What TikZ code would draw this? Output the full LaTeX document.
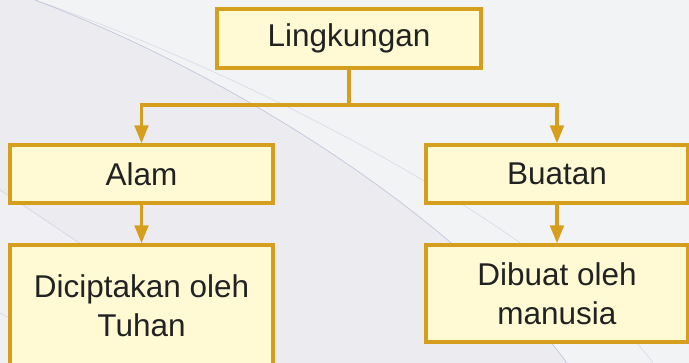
\documentclass[tikz,border=0pt]{standalone}
\usepackage{fontspec}
\setmainfont{Liberation Sans}
\usepackage{tikz}
\usetikzlibrary{arrows.meta}
\usepackage{xcolor}
\definecolor{boxgold}{HTML}{D59E1C}
\definecolor{boxfill}{HTML}{FFFAD4}
\definecolor{bglight}{HTML}{F2F3F5}
\definecolor{bgdark}{HTML}{ECECF0}
\definecolor{bgmid}{HTML}{F0F0F4}
\definecolor{curveline}{HTML}{C4C6DC}
\definecolor{textdark}{HTML}{222222}

\begin{document}
\begin{tikzpicture}
        % Définition des styles
        \tikzset{
            block/.style={rectangle, draw=boxgold, fill=boxfill, line width=2.4pt,
                         text=textdark, align=center,
                         font=\fontsize{22.4}{28}\selectfont},
            link/.style={draw=boxgold, line width=2.4pt},
            arrow/.style={link, -{Triangle[width=0.34cm,length=0.45cm]}},
            curve/.style={curveline, line width=0.5pt}
        }
        
        % Fond
        \fill[bglight] (0,0) rectangle (17.225,-9.075);
        \useasboundingbox (0,0) rectangle (17.225,-9.075);
        \fill[bgdark] (0.875,0) .. controls (6.375,-2.1) and (11.75,-5.8) .. (14.175,-9.075) -- (0,-9.075) -- (0,0) -- cycle;
        \fill[bgmid] (0,-4.75) .. controls (2.5,-6.4) and (4.5,-7.8) .. (6.2,-9.075) -- (0,-9.075) -- cycle;
        \draw[curve] (0.875,0) .. controls (6.375,-2.1) and (11.75,-5.8) .. (14.175,-9.075);
        \draw[curve, opacity=0.5] (0.875,0) .. controls (6.625,-2) and (14,-5.925) .. (16.325,-9.075);
        \draw[curve, opacity=0.6] (0,-4.75) .. controls (2.5,-6.4) and (4.5,-7.8) .. (6.2,-9.075);
        \draw[curve, opacity=0.6] (0,-7.825) -- (0.625,-8.175);
        
        % Diagramme
        \node[block, minimum width=6.6cm, minimum height=1.475cm] (lingkungan) at (8.725,-0.9625) {Lingkungan};
        \node[block, minimum width=6.575cm, minimum height=1.45cm] (alam) at (3.5375,-4.35) {Alam};
        \node[block, minimum width=6.55cm, minimum height=1.45cm] (buatan) at (13.925,-4.35) {Buatan};
        \node[block, minimum width=6.575cm, minimum height=3.05cm] (tuhan) at (3.5375,-7.65) {Diciptakan oleh\\Tuhan};
        \node[block, minimum width=6.55cm, minimum height=2.425cm] (manusia) at (13.925,-7.3375) {Dibuat oleh\\manusia};
        \coordinate (branch) at (8.725,-2.625);
        
        % Connexions
        \draw[link] (lingkungan.south) -- (branch);
        \draw[arrow] (branch) -| (alam.north);
        \draw[arrow] (branch) -| (buatan.north);
        \draw[arrow] (alam) -- (tuhan);
        \draw[arrow] (buatan) -- (manusia);
    \end{tikzpicture}
\end{document}
